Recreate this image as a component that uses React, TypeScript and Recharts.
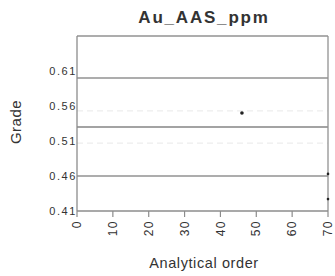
import React from 'react';
import { ComposedChart, XAxis, YAxis, Scatter, ReferenceLine } from 'recharts';

const xTicks = [0, 10, 20, 30, 40, 50, 60, 70];
const yTicks = [0.41, 0.46, 0.51, 0.56, 0.61];
const samples = [
  { order: 46, grade: 0.55 },
  { order: 70, grade: 0.463 },
  { order: 70, grade: 0.427 },
];
const meanLine = 0.53;
const controlLines = [0.6, 0.46];
const sdLines = [0.553, 0.507];
const yDomain = [0.41, 0.66];
const xDomain = [0, 70];

const FONT = '"Liberation Sans", Arial, sans-serif';

const XTick = (props: any) => {
  const { x, y, payload } = props;
  return (
    <g transform={`translate(${x},${y})`}>
      <text
        transform="rotate(-90)"
        textAnchor="end"
        dy="0.35em"
        fontSize={12}
        fill="#333"
        fontFamily={FONT}
        style={{ letterSpacing: '1.5px' }}
      >
        {payload.value}
      </text>
    </g>
  );
};

const YTick = (props: any) => {
  const { y, payload } = props;
  return (
    <text
      x={77}
      y={y}
      textAnchor="end"
      dy="0.35em"
      fontSize={11}
      fill="#333"
      fontFamily={FONT}
      style={{ letterSpacing: '1.6px' }}
    >
      {payload.value.toFixed(2)}
    </text>
  );
};

export default function App() {
  return (
    <div style={{ position: 'absolute', left: 0, top: 0, width: 335, height: 276, background: '#fff' }}>
      <ComposedChart
        width={335}
        height={276}
        data={samples}
        margin={{ top: 36, right: 7, bottom: 0, left: 0 }}
      >
        <XAxis
          type="number"
          dataKey="order"
          domain={xDomain}
          ticks={xTicks}
          interval={0}
          height={65}
          tickSize={6}
          tickMargin={3}
          stroke="#888"
          tick={<XTick />}
          axisLine={{ stroke: '#8c8c8c', strokeWidth: 1.3 }}
          tickLine={{ stroke: '#8c8c8c', strokeWidth: 1.2 }}
        />
        <YAxis
          type="number"
          dataKey="grade"
          domain={yDomain}
          ticks={yTicks}
          interval={0}
          width={77}
          tickLine={false}
          tick={<YTick />}
          axisLine={{ stroke: '#8c8c8c', strokeWidth: 1.3 }}
          allowDataOverflow
        />
        {sdLines.map((v) => (
          <ReferenceLine key={`sd${v}`} y={v} stroke="#e8e8e8" strokeDasharray="6 4" strokeWidth={1} />
        ))}
        {controlLines.map((v) => (
          <ReferenceLine key={`cl${v}`} y={v} stroke="#929292" strokeWidth={1.3} />
        ))}
        <ReferenceLine y={meanLine} stroke="#858585" strokeWidth={1.4} />
        <ReferenceLine y={yDomain[1]} stroke="#929292" strokeWidth={1.3} />
        <ReferenceLine x={xDomain[1]} stroke="#929292" strokeWidth={1.3} />
        <Scatter
          dataKey="grade"
          fill="#222"
          isAnimationActive={false}
          shape={(p: any) => (
            <circle cx={p.cx} cy={p.cy} r={p.payload.order === 70 ? 1.3 : 1.8} fill="#222" />
          )}
        />
      </ComposedChart>
      <svg
        width={335}
        height={276}
        style={{ position: 'absolute', left: 0, top: 0, pointerEvents: 'none' }}
      >
        <text
          x={204}
          y={23}
          textAnchor="middle"
          fontSize={17}
          fontWeight="bold"
          fill="#333"
          fontFamily={FONT}
          style={{ letterSpacing: '1.8px' }}
        >
          Au_AAS_ppm
        </text>
        <text
          x={204}
          y={268}
          textAnchor="middle"
          fontSize={14.5}
          fill="#333"
          fontFamily={FONT}
          style={{ letterSpacing: '0.6px' }}
        >
          Analytical order
        </text>
        <text
          x={21}
          y={122}
          textAnchor="middle"
          fontSize={15}
          fill="#333"
          fontFamily={FONT}
          transform="rotate(-90, 21, 122)"
          style={{ letterSpacing: '0.5px' }}
        >
          Grade
        </text>
      </svg>
    </div>
  );
}
